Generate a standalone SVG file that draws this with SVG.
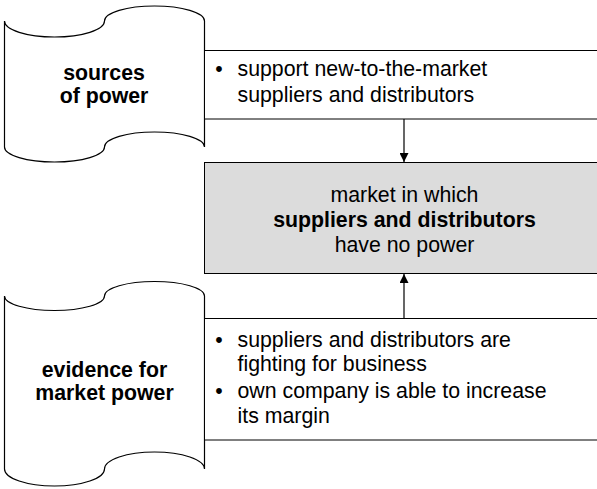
<svg xmlns="http://www.w3.org/2000/svg" width="597" height="489" viewBox="0 0 597 489">
<style>
.shape{fill:#fff;stroke:#000;stroke-width:1.2}
.box{fill:#fff;stroke:#000;stroke-width:1}
.grey{fill:#dcdcdc;stroke:#000;stroke-width:1}
text{font-family:"Liberation Sans",Arial,sans-serif;font-size:21.3px;fill:#000}
.b{font-weight:bold}
.c{text-anchor:middle}
.conn{stroke:#000;stroke-width:1.2;fill:none}
</style>
<defs>
<marker id="ah" viewBox="0 0 10 10" refX="10" refY="5" markerUnits="userSpaceOnUse" markerWidth="9" markerHeight="9" orient="auto">
<path d="M0,0 L10,5 L0,10 Z" fill="#000"/>
</marker>
</defs>
<g id="sources">
<path class="shape" d="M4.5,21 A50,16 0 0 0 104.5,21 A50,15 0 0 1 204.5,21 L204.5,147 A50,15 0 0 0 104.5,147 A50,15 0 0 1 4.5,147 Z"/>
<text class="b c" x="104" y="80">sources</text>
<text class="b c" x="104" y="103">of power</text>
</g>
<g id="evidence">
<path class="shape" d="M4.5,296 A50,14.5 0 0 0 104.5,296 A50,14.5 0 0 1 204.5,296 L204.5,469 A50,17 0 0 0 104.5,469 A50,17 0 0 1 4.5,469 Z"/>
<text class="b c" x="104.5" y="377">evidence for</text>
<text class="b c" x="104.5" y="400">market power</text>
</g>
<g id="support">
<rect class="box" x="204.5" y="50.5" width="410" height="68.5"/>
<text x="219" y="75.5" class="c">•</text>
<text x="237.5" y="75.5">support new-to-the-market</text>
<text x="237.5" y="102">suppliers and distributors</text>
</g>
<g id="market">
<rect class="grey" x="204.5" y="162.5" width="410" height="111"/>
<text class="c" x="404.5" y="202">market in which</text>
<text class="c b" x="404.5" y="227">suppliers and distributors</text>
<text class="c" x="404.5" y="252">have no power</text>
</g>
<g id="fighting">
<rect class="box" x="204.5" y="318.5" width="410" height="121.5"/>
<text x="219" y="347" class="c">•</text>
<text x="237.5" y="347">suppliers and distributors are</text>
<text x="237.5" y="371">fighting for business</text>
<text x="219" y="398" class="c">•</text>
<text x="237.5" y="398">own company is able to increase</text>
<text x="237.5" y="423">its margin</text>
</g>
<g id="connectors">
<line class="conn" x1="404" y1="119" x2="404" y2="162" marker-end="url(#ah)"/>
<line class="conn" x1="404" y1="318" x2="404" y2="274" marker-end="url(#ah)"/>
</g>
</svg>
